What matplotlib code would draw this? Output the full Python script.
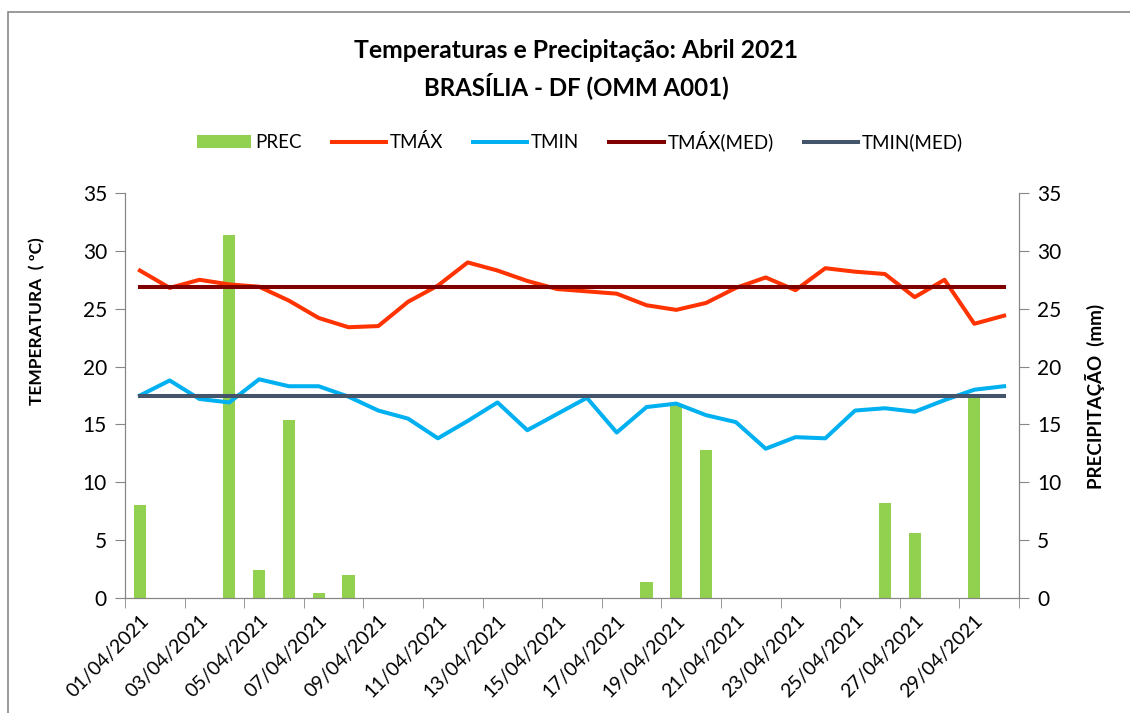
import matplotlib.pyplot as plt
from matplotlib.patches import Rectangle

plt.rcParams['font.family'] = ['Lato', 'DejaVu Sans']

# dados do mês
dias = [f'{d:02d}/04/2021' for d in range(1, 31)]
tmax = [28.3, 26.8, 27.5, 27.1, 26.9, 25.7, 24.2, 23.4, 23.5, 25.6,
        27.0, 29.0, 28.3, 27.4, 26.7, 26.5, 26.3, 25.3, 24.9, 25.5,
        26.8, 27.7, 26.6, 28.5, 28.2, 28.0, 26.0, 27.5, 23.7, 24.4]
tmin = [17.5, 18.8, 17.2, 16.9, 18.9, 18.3, 18.3, 17.4, 16.2, 15.5,
        13.8, 15.3, 16.9, 14.5, 15.9, 17.3, 14.3, 16.5, 16.8, 15.8,
        15.2, 12.9, 13.9, 13.8, 16.2, 16.4, 16.1, 17.1, 18.0, 18.3]
prec = [8.0, 0, 0, 31.4, 2.4, 15.4, 0.4, 2.0, 0, 0,
        0, 0, 0, 0, 0, 0, 0, 1.4, 16.7, 12.8,
        0, 0, 0, 0, 0, 8.2, 5.6, 0, 17.5, 0]
tmax_med = 26.9
tmin_med = 17.5

W, H = 1130, 713
fig = plt.figure(figsize=(W / 100, H / 100), dpi=100)
ax = fig.add_axes([125 / W, 1 - 598 / H, 894 / W, 405 / H])
ax2 = ax.twinx()
# barras atrás das linhas
ax2.set_zorder(ax.get_zorder() - 1)
ax.patch.set_visible(False)

x = list(range(len(dias)))
cinza = '#868686'

barras = ax2.bar(x, prec, width=0.41, color='#92D050', label='PREC')
l1, = ax.plot(x, tmax, color='#FF3300', lw=2.9, label='TMÁX')
l2, = ax.plot(x, tmin, color='#00B0F0', lw=2.9, label='TMIN')
l3, = ax.plot(x, [tmax_med] * len(x), color='#800000', lw=2.9, label='TMÁX(MED)')
l4, = ax.plot(x, [tmin_med] * len(x), color='#44546A', lw=2.9, label='TMIN(MED)')

for a in (ax, ax2):
    a.set_ylim(0, 35)
    a.set_yticks(range(0, 36, 5))
    a.set_xlim(-0.5, len(x) - 0.5)
    for s in a.spines.values():
        s.set_color(cinza)
    a.spines['top'].set_visible(False)
    a.tick_params(axis='y', length=7, color=cinza, labelsize=15, pad=6)

# eixo x: rótulos a cada 2 dias, marcas entre categorias
ax.set_xticks(x[::2])
ax.set_xticklabels(dias[::2], rotation=45, ha='right', va='top',
                   rotation_mode='anchor')
ax.set_xticks([i - 0.5 for i in range(0, len(x) + 1, 2)], minor=True)
ax.tick_params(axis='x', which='major', length=0, labelsize=14, pad=10)
ax.tick_params(axis='x', which='minor', length=7, color=cinza)

fig.text(37 / W, 1 - 321 / H, 'TEMPERATURA  ( ºC)', rotation=90,
         ha='center', va='center', fontsize=12.5, fontweight='bold')
fig.text(1095 / W, 1 - 396 / H, 'PRECIPITAÇÃO  (mm)', rotation=90,
         ha='center', va='center', fontsize=13.5, fontweight='bold')

fig.text(576 / W, 1 - 51 / H, 'Temperaturas e Precipitação: Abril 2021',
         ha='center', va='center', fontsize=17.8, fontweight='bold')
fig.text(576 / W, 1 - 86 / H, 'BRASÍLIA - DF (OMM A001)',
         ha='center', va='center', fontsize=17.3, fontweight='bold')

fig.legend([barras, l1, l2, l3, l4],
           ['PREC', 'TMÁX', 'TMIN', 'TMÁX(MED)', 'TMIN(MED)'],
           loc='center', bbox_to_anchor=(580 / W, 1 - 141 / H), ncol=5,
           frameon=False, fontsize=13.5, handlelength=2.9, handletextpad=0.2,
           columnspacing=1.6)

# moldura da área do gráfico
fig.add_artist(Rectangle((8 / W, -0.1), 1.2, 1.1 - 12 / H,
                         transform=fig.transFigure, fill=False,
                         edgecolor='#898989', lw=1.2))

fig.savefig('out.png', dpi=100)
